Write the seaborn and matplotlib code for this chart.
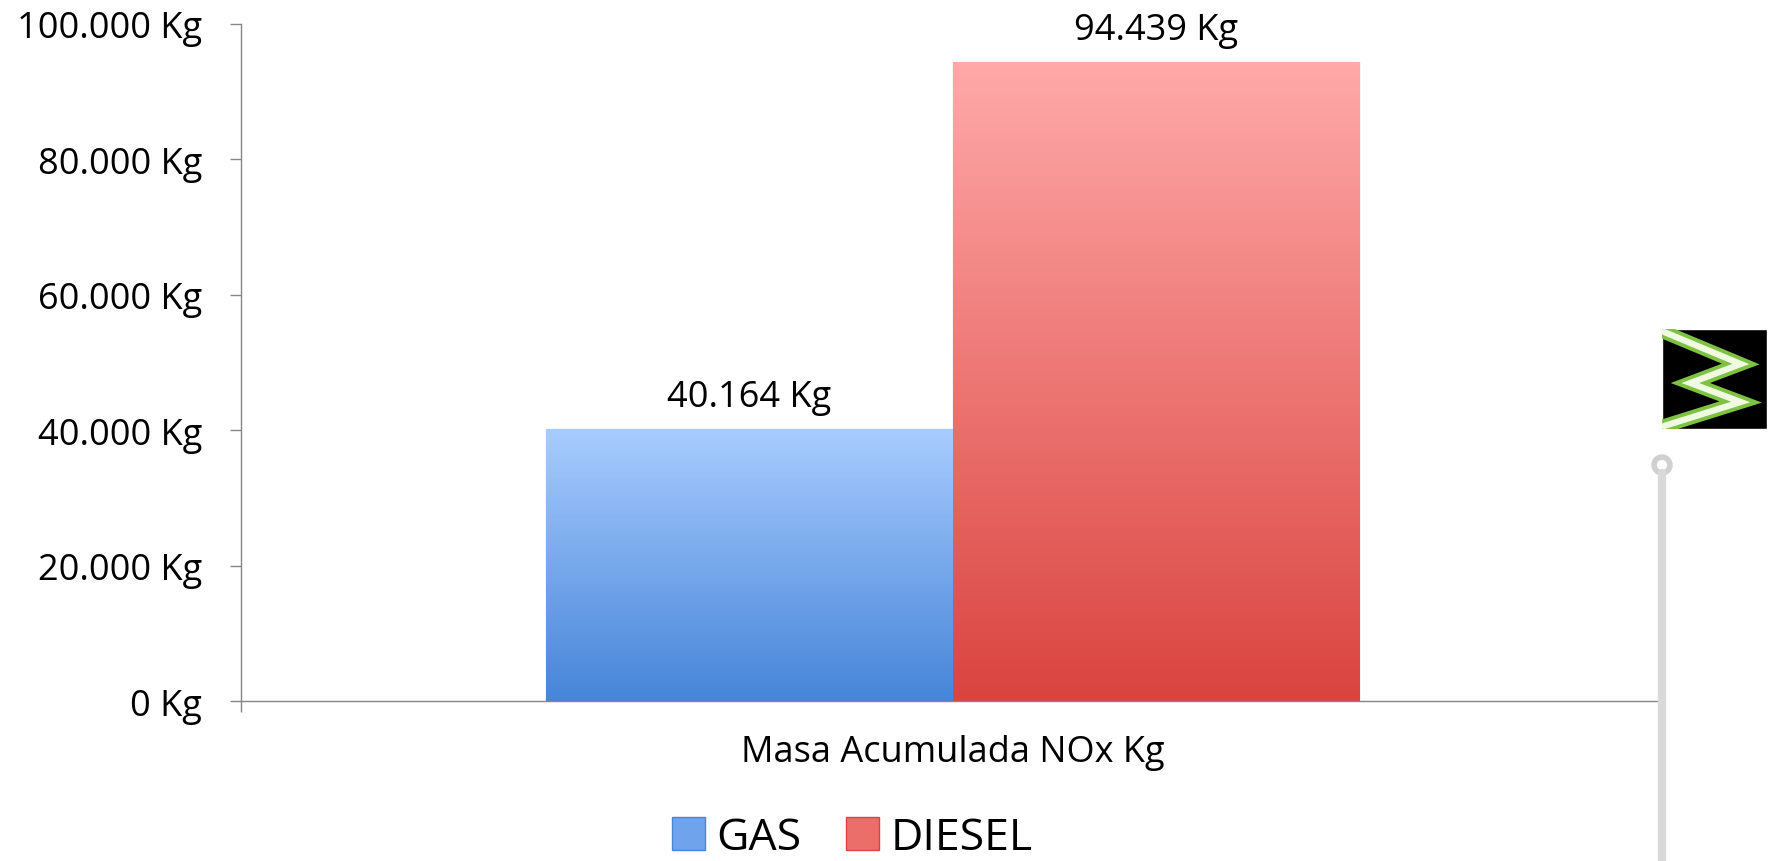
import numpy as np
import pandas as pd
import matplotlib.pyplot as plt
import seaborn as sns
from matplotlib.ticker import FuncFormatter, FixedLocator
from matplotlib.colors import LinearSegmentedColormap
from matplotlib.patches import Rectangle, Circle, Patch
from matplotlib.lines import Line2D

# Data
categorias = ["Masa Acumulada NOx Kg"]
combustibles = ["GAS", "DIESEL"]
valores = [40164, 94439]
y_ticks = [0, 20000, 40000, 60000, 80000, 100000]

# gradient colours (top, bottom) per series
colores_top = {"GAS": "#A8CCFF", "DIESEL": "#FFA9A9"}
colores_bottom = {"GAS": "#4685D8", "DIESEL": "#DA443F"}
colores_mid = {"GAS": "#6FA3EC", "DIESEL": "#EC6E6B"}

df = pd.DataFrame({
    "categoria": categorias * len(combustibles),
    "combustible": combustibles,
    "valor": valores,
})

sns.set_style("white")
plt.rcParams["font.family"] = ["Open Sans", "DejaVu Sans"]
plt.rcParams["text.color"] = "black"
plt.rcParams["xtick.labelcolor"] = "black"
plt.rcParams["ytick.labelcolor"] = "black"

fig = plt.figure(figsize=(17.75, 8.62), dpi=100)
ax = fig.add_axes([0.1358, 0.1856, 0.8017, 0.7854])

sns.barplot(data=df, x="categoria", y="valor", hue="combustible",
            hue_order=combustibles, palette=colores_mid, width=0.571,
            gap=0, legend=False, ax=ax, saturation=1)

ax.set_xlim(-0.5, 0.5)
ax.set_ylim(0, 100000)

# gradient fill clipped to each bar
for cont, name in zip(ax.containers, combustibles):
    cmap = LinearSegmentedColormap.from_list(name, [colores_bottom[name], colores_top[name]])
    for bar in cont:
        x0, y0 = bar.get_x(), bar.get_y()
        w, h = bar.get_width(), bar.get_height()
        grad = np.linspace(0, 1, 256).reshape(-1, 1)
        im = ax.imshow(grad, cmap=cmap, origin="lower", aspect="auto",
                       extent=[x0, x0 + w, y0, y0 + h], zorder=bar.get_zorder() + 0.1)
        im.set_clip_path(bar)
        bar.set_edgecolor(colores_bottom[name])
        bar.set_linewidth(0.8)
    ax.bar_label(cont, labels=[f"{v:,.0f}".replace(",", ".") + " Kg" for v in cont.datavalues],
                 padding=10, fontsize=26, color="black")

ax.set_xlim(-0.5, 0.5)
ax.set_ylim(0, 100000)

ax.yaxis.set_major_locator(FixedLocator(y_ticks))
ax.yaxis.set_major_formatter(FuncFormatter(lambda v, p: f"{v:,.0f}".replace(",", ".") + " Kg"))
ax.tick_params(axis="y", labelsize=26, length=8, width=1, color="#868686", direction="out", left=True, pad=20)
ax.set_xticks([0])
ax.set_xticklabels(categorias)
ax.set_xticks([-0.5, 0.5], minor=True)
ax.tick_params(axis="x", which="major", length=0, labelsize=26, pad=24)
ax.tick_params(axis="x", which="minor", length=8, width=1, color="#868686", direction="out", bottom=True)
ax.set_xlabel("")
ax.set_ylabel("")

for s in ["top", "right"]:
    ax.spines[s].set_visible(False)
for s in ["left", "bottom"]:
    ax.spines[s].set_color("#868686")
    ax.spines[s].set_linewidth(1)

# legend
handles = [Patch(facecolor=colores_mid[c], edgecolor=colores_bottom[c]) for c in combustibles]
fig.legend(handles, combustibles, loc="lower center", bbox_to_anchor=(0.48, -0.045),
           ncol=2, frameon=False, fontsize=32, handlelength=0.75, handleheight=0.75,
           handletextpad=0.25, columnspacing=1.0)

# decoration on the right: logo and grey pole
W, H = 1775, 862
fig.add_artist(Line2D([1662 / W, 1662 / W], [0, (H - 474) / H], color="#D9D9D9",
                      lw=6, transform=fig.transFigure, zorder=3))
ax_c = fig.add_axes([1651 / W, (H - 477) / H, 22 / W, 22 / H])
ax_c.add_patch(Circle((0.5, 0.5), 0.36, facecolor="white", edgecolor="#D0D0D0", lw=4))
ax_c.set_xlim(0, 1); ax_c.set_ylim(0, 1); ax_c.axis("off")

ax_l = fig.add_axes([1662 / W, (H - 430) / H, 105 / W, 100 / H])
ax_l.add_patch(Rectangle((0, 0), 1, 1, facecolor="black"))
zx = [0.02, 0.75, 0.27, 0.75, 0.02]
zy = [0.97, 0.65, 0.46, 0.27, 0.03]
ax_l.plot(zx, zy, color="#7DC242", lw=10, solid_joinstyle="miter")
ax_l.plot(zx, zy, color="#F0FAE0", lw=4.5, solid_joinstyle="miter")
ax_l.set_xlim(0, 1); ax_l.set_ylim(0, 1); ax_l.axis("off")

fig.savefig("out.png", dpi=100)
